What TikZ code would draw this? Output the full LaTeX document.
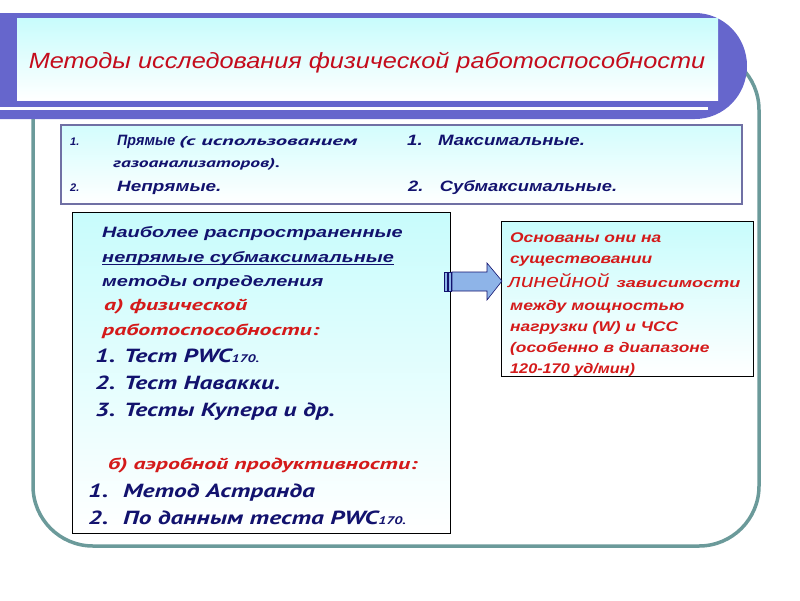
\documentclass[tikz,border=0pt]{standalone}
\usepackage{fontspec}
\usepackage{graphicx}
\setmainfont{Liberation Sans}
\newfontfamily\cursive{PT Sans}
\definecolor{bannerblue}{HTML}{6666CC}
\definecolor{skycyan}{HTML}{C8FCFC}
\definecolor{rimteal}{HTML}{6B9A9A}
\definecolor{inkblue}{HTML}{12126E}
\definecolor{inkred}{HTML}{D41A1A}
\definecolor{titlered}{HTML}{C40C1C}
\definecolor{framegrey}{HTML}{7070A4}
\definecolor{arrowblue}{HTML}{8EB4E8}
% horizontal stretch of a line of text
\newcommand{\wid}[2]{\scalebox{#1}[1]{#2}}

\begin{document}
\begin{tikzpicture}[x=1pt,y=-1pt,
  txt/.style={anchor=base west, inner sep=0pt, text=inkblue,
    font=\bfseries\itshape\fontsize{15}{18}\selectfont},
  small/.style={txt, font=\bfseries\itshape\fontsize{11}{13}\selectfont},
  paren/.style={txt, font=\cursive\bfseries\itshape\fontsize{13}{15}\selectfont},
  big/.style={txt, font=\cursive\bfseries\itshape\fontsize{19}{22}\selectfont},
  redtxt/.style={txt, text=inkred},
  redcur/.style={redtxt, font=\cursive\bfseries\itshape\fontsize{16}{19}\selectfont},
  note/.style={redtxt, font=\bfseries\itshape\fontsize{14}{16}\selectfont},
  panel/.style={draw=black, line width=0.8pt, top color=skycyan, bottom color=white}]
  \useasboundingbox (0,0) rectangle (800,600);

  % outer rounded frame
  \draw[rimteal, line width=3.5pt, rounded corners=60] (33,50) rectangle (759,546);

  % title banner
  \fill[bannerblue] (0,13) -- (695,13) arc[start angle=-90, end angle=90, x radius=52, y radius=53]
    -- (0,119) -- cycle;
  \shade[top color=skycyan, bottom color=white] (17,18) rectangle (718,100);
  \fill[white] (0,107) rectangle (708,110);
  \node[anchor=base, inner sep=0pt, text=titlered, font=\itshape\fontsize{22}{26}\selectfont]
    (title) at (367,68) {\wid{1.15}{Методы исследования физической работоспособности}};

  % kinds of methods
  \node[panel, draw=framegrey, line width=1.5pt, anchor=north west, minimum width=681pt,
    minimum height=79pt, top color=skycyan!80] (kinds) at (60,124) {};
  \node[small] (k1) at (70,145) {1.};
  \node[txt] (direct) at (117,145) {\wid{0.95}{Прямые}};
  \node[paren] (use) at (179,145) {\wid{1.74}{(с использованием}};
  \node[paren] (gas) at (113,167) {\wid{1.5}{газоанализаторов).}};
  \node[small] (k2) at (70,191) {2.};
  \node[txt] (indirect) at (117,191) {\wid{1.26}{Непрямые.}};
  \node[txt] (maxi) at (407,145) {\wid{1.24}{1.\hspace{12.5pt}Максимальные.}};
  \node[txt] (submaxi) at (408,191) {\wid{1.22}{2.\hspace{13.5pt}Субмаксимальные.}};

  % common submaximal methods
  \node[panel, anchor=north west, minimum width=378pt, minimum height=321pt] (common) at (72,212) {};
  \node[txt] (c1) at (102,237) {\wid{1.33}{Наиболее распространенные}};
  \node[txt] (c2) at (102,262) {\wid{1.33}{непрямые субмаксимальные}};
  \draw[inkblue, line width=1.3pt] ([yshift=-2.6pt]c2.base west) -- ([yshift=-2.6pt]c2.base east);
  \node[txt] (c3) at (102,286) {\wid{1.33}{методы определения}};
  \node[redcur] (wa) at (104,310) {\wid{1.49}{а) физической}};
  \node[redcur] (wb) at (102,335) {\wid{1.49}{работоспособности:}};
  \node[big] (t1) at (95,362) {\wid{1.34}{1. Тест PWC\fontsize{11}{13}\selectfont 170.}};
  \node[big] (t2) at (95,389) {\wid{1.34}{2. Тест Навакки.}};
  \node[big] (t3) at (95,416) {\wid{1.34}{3. Тесты Купера и др.}};
  \node[redcur] (aero) at (108,469) {\wid{1.49}{б) аэробной продуктивности:}};
  \node[big] (a1) at (88,497) {\wid{1.34}{1.\hspace{11pt}Метод Астранда}};
  \node[big] (a2) at (88,524) {\wid{1.34}{2.\hspace{11pt}По данным теста PWC\fontsize{11}{13}\selectfont 170.}};

  % basis of the methods
  \node[panel, anchor=north west, minimum width=252pt, minimum height=155pt] (basis) at (501,221) {};
  \node[note] (b1) at (510,242) {\wid{1.24}{Основаны они на}};
  \node[note] (b2) at (510,263) {\wid{1.24}{существовании}};
  \node[note, font=\itshape\fontsize{19}{22}\selectfont] (b3) at (508,287)
    {\wid{1.2}{линейной}\hspace{7pt}\bfseries\fontsize{13}{15}\selectfont\wid{1.39}{зависимости}};
  \node[note] (b4) at (510,310) {\wid{1.26}{между мощностью}};
  \node[note] (b5) at (510,331) {\wid{1.24}{нагрузки (W) и ЧСС}};
  \node[note] (b6) at (510,352) {\wid{1.24}{(особенно в диапазоне}};
  \node[note] (b7) at (510,373) {\wid{1.16}{120-170 уд/мин)}};

  % striped block arrow
  \filldraw[fill=arrowblue, draw=inkblue, line width=0.6pt]
    (452,272) -- (487,272) -- (487,263) -- (502,281) -- (487,300) -- (487,291) -- (452,291) -- cycle;
  \filldraw[fill=arrowblue, draw=inkblue, line width=0.6pt] (444,272) rectangle (447,291);
  \filldraw[fill=arrowblue, draw=inkblue, line width=0.6pt] (448.5,272) rectangle (451,291);
\end{tikzpicture}
\end{document}
